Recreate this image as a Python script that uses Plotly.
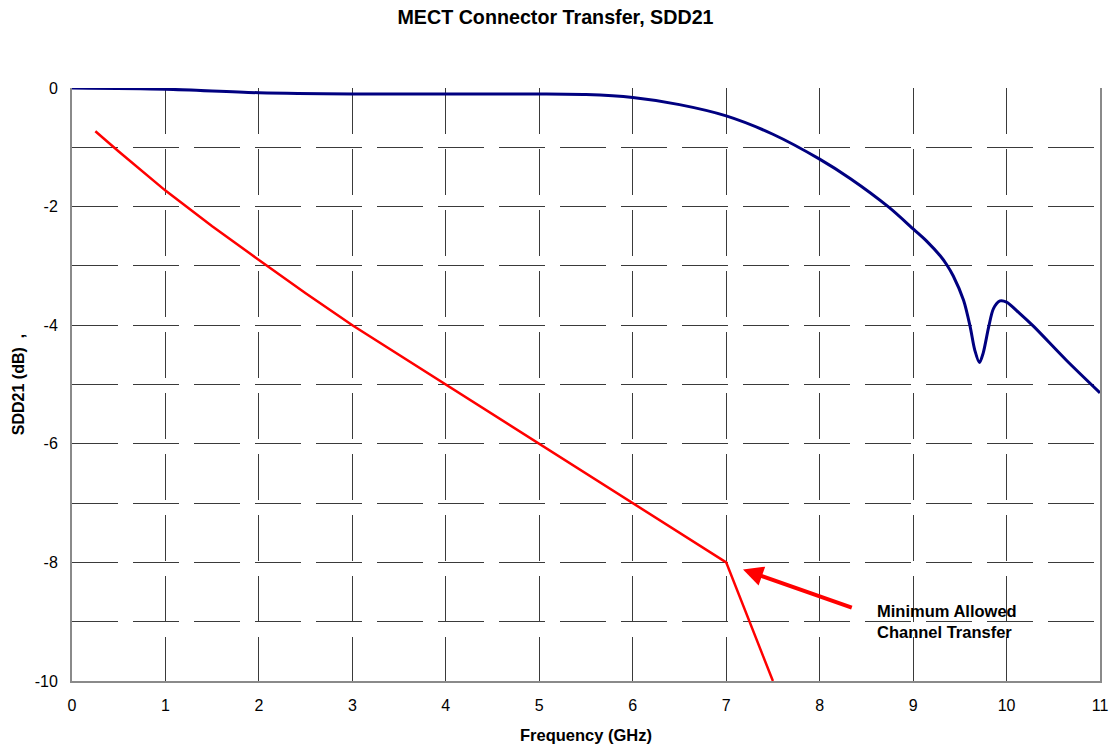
import plotly.graph_objects as go

# Data
freq_mect = [0, 1, 2, 3, 4, 5, 5.5, 6, 6.5, 7, 7.5, 8, 8.33, 8.74, 9.01, 9.15, 9.29, 9.36,
             9.43, 9.54, 9.61, 9.66, 9.71, 9.75, 9.81, 9.86, 9.93, 10.0, 10.14, 10.29, 10.64, 11]
sdd21_mect = [0, -0.02, -0.08, -0.10, -0.10, -0.10, -0.11, -0.16, -0.28, -0.47, -0.78,
              -1.20, -1.53, -2.01, -2.39, -2.59, -2.83, -2.98, -3.17, -3.58, -4.02, -4.42,
              -4.63, -4.47, -4.02, -3.72, -3.59, -3.61, -3.80, -4.02, -4.59, -5.14]
freq_limit = [0.25, 0.5, 1, 1.5, 2, 2.5, 3, 4, 5, 6, 7, 7.5]
sdd21_limit = [-0.73, -1.07, -1.73, -2.33, -2.9, -3.46, -4.0, -5.0, -6.0, -7.0, -8.0, -10.0]
y_tickvals = list(range(-10, 1))
y_ticktext = [str(v) if v % 2 == 0 else "" for v in y_tickvals]
x_tickvals = list(range(0, 12))

FONT = "Liberation Sans, Arial, sans-serif"
GRID = "#3a3a3a"

fig = go.Figure()
fig.add_trace(go.Scatter(x=freq_mect, y=sdd21_mect, mode="lines",
                         line=dict(color="#000080", width=3, shape="spline", smoothing=0.8),
                         showlegend=False, hoverinfo="skip"))
fig.add_trace(go.Scatter(x=freq_limit, y=sdd21_limit, mode="lines",
                         line=dict(color="#ff0000", width=2.5),
                         showlegend=False, hoverinfo="skip"))

fig.update_layout(
    width=1111, height=745, autosize=False,
    margin=dict(l=72, r=11, t=88, b=64, autoexpand=False),
    paper_bgcolor="white", plot_bgcolor="white",
    font=dict(family=FONT, size=16, color="black"),
    title=dict(text="<b>MECT Connector Transfer, SDD21</b>", x=0.5, xanchor="center",
               y=0.977, yanchor="middle", font=dict(size=19.7, family=FONT)),
    xaxis=dict(range=[0, 11], tickvals=x_tickvals, showgrid=True, gridcolor=GRID,
               gridwidth=1, griddash="46px,15px", zeroline=False, automargin=False,
               showline=True, linecolor="#8a8a8a", linewidth=2, ticks="",
               ticklabelstandoff=9,
               title=dict(text="<b>Frequency (GHz)</b>", font=dict(size=16.5), standoff=16),
               tickfont=dict(size=16)),
    xaxis2=dict(range=[0, 11], overlaying="x", side="top", anchor="y", matches="x",
                showgrid=False, zeroline=False, showticklabels=False, automargin=False,
                showline=True, linecolor="#404040", linewidth=2,
                ticks="outside", ticklen=4, tickwidth=1.5, tickcolor="#404040", dtick=1, tick0=0,
                minor=dict(ticks="outside", ticklen=3, dtick=0.5, tickcolor="#404040", tickwidth=1)),
    xaxis3=dict(range=[0, 11], overlaying="x", side="top", anchor="y", matches="x",
                showgrid=False, zeroline=False, showticklabels=False, showline=False,
                automargin=False,
                ticks="inside", ticklen=4, tickwidth=1.5, tickcolor="#404040", dtick=1, tick0=0,
                minor=dict(ticks="inside", ticklen=3, dtick=0.5, tickcolor="#404040", tickwidth=1)),
    yaxis=dict(range=[-10, 0], tickvals=y_tickvals, ticktext=y_ticktext, showgrid=True,
               gridcolor=GRID, gridwidth=1, griddash="46px,15px", zeroline=False,
               showline=True, linecolor="#8a8a8a", linewidth=2, mirror=True, ticks="",
               ticklabelstandoff=9, automargin=False,
               title=dict(text="<b>SDD21 (dB)  ,</b>", font=dict(size=16), standoff=6),
               tickfont=dict(size=16)),
)

fig.add_annotation(x=7.18, y=-8.12, ax=8.36, ay=-8.77, xref="x", yref="y",
                   axref="x", ayref="y", text="", showarrow=True,
                   arrowhead=2, arrowsize=1, arrowwidth=4, arrowcolor="#ff0000")
fig.add_annotation(x=8.59, y=-9.0, xref="x", yref="y", xanchor="left", yanchor="middle",
                   align="left", showarrow=False,
                   text="<b>Minimum Allowed<br>Channel Transfer</b>",
                   font=dict(size=16.5, color="black"))

fig.write_html("out.html")
